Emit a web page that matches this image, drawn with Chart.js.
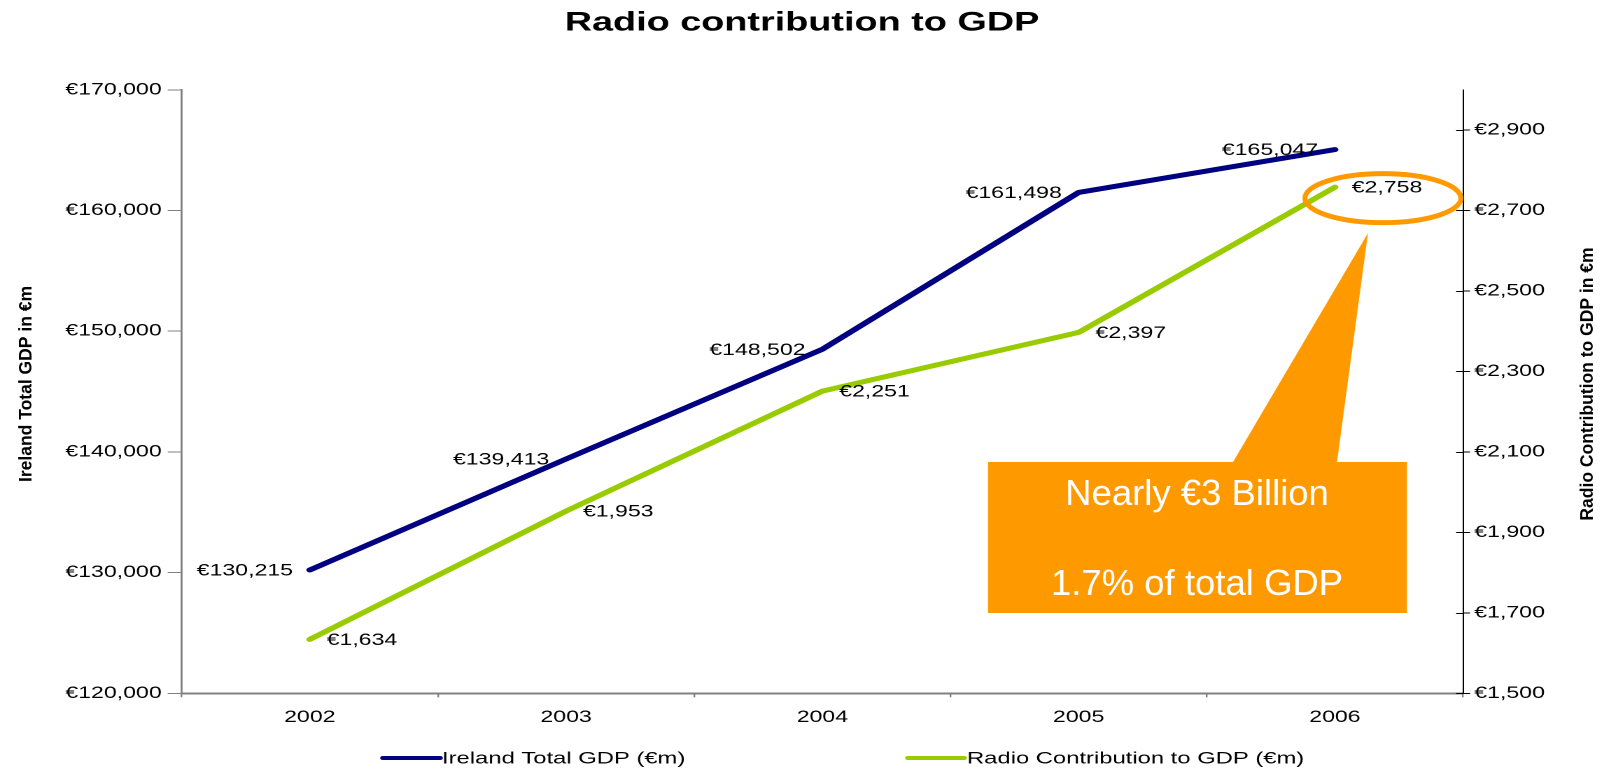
<!DOCTYPE html>
<html>
<head>
<meta charset="utf-8">
<title>Radio contribution to GDP</title>
<script src="https://cdn.jsdelivr.net/npm/chart.js@4/dist/chart.umd.min.js"></script>
<style>
  html, body { margin: 0; padding: 0; background: #fff; overflow: hidden; }
  #wrap { width: 1604px; height: 769px; overflow: hidden; position: relative; }
  /* the chart is laid out on a narrower canvas and widened horizontally */
  #c { display: block; transform-origin: 0 0; transform: scaleX(1.399651); }
</style>
</head>
<body>
<div id="wrap"><canvas id="c" width="1146" height="769"></canvas></div>
<script>
// ---- data ----
const years = ['2002', '2003', '2004', '2005', '2006'];
const irelandGdp = [130215, 139413, 148502, 161498, 165047];
const radioGdp = [1634, 1953, 2251, 2397, 2758];
const gdpTicks = [120000, 130000, 140000, 150000, 160000, 170000];
const radioTicks = [1500, 1700, 1900, 2100, 2300, 2500, 2700, 2900];
const seriesNames = ['Ireland Total GDP (€m)', 'Radio Contribution to GDP (€m)'];
const axisTitles = ['Ireland Total GDP in €m', 'Radio Contribution to GDP in €m'];
const chartTitle = 'Radio contribution to GDP';
const calloutLines = ['Nearly €3 Billion', '1.7% of total GDP'];

// ---- layout constants ----
const W = 1146, H = 769;
const SX = 1604 / W;            // horizontal widening of the canvas
const FONT = "'Liberation Sans', Arial, Helvetica, sans-serif";
const NAVY = '#000080';
const LIME = '#99CC00';
const ORANGE = '#FF9900';
const euro = v => '€' + v.toLocaleString('en-US');

Chart.defaults.font.family = FONT;
Chart.defaults.color = '#000';

// value labels, axis titles, legend and the callout
const decor = {
  id: 'decor',
  afterDatasetsDraw(chart) {
    const ctx = chart.ctx;
    ctx.save();
    ctx.font = `16.5px ${FONT}`;
    ctx.fillStyle = '#000';
    ctx.textBaseline = 'middle';
    chart.data.datasets.forEach((ds, i) => {
      const meta = chart.getDatasetMeta(i);
      meta.data.forEach((pt, j) => {
        const txt = euro(ds.data[j]);
        if (i === 0) {
          ctx.textAlign = 'right';
          ctx.fillText(txt, pt.x - 12, pt.y + 1);
        } else {
          ctx.textAlign = 'left';
          ctx.fillText(txt, pt.x + 12, pt.y + 1);
        }
      });
    });
    ctx.restore();
  },
  afterDraw(chart) {
    const ctx = chart.ctx;

    // inner half of the right-axis tick marks
    const r = chart.scales.y1;
    ctx.save();
    ctx.strokeStyle = '#000';
    ctx.lineWidth = 1;
    r.ticks.forEach(t => {
      const y = Math.round(r.getPixelForValue(t.value)) + 0.5;
      ctx.beginPath();
      ctx.moveTo(r.left - 5, y);
      ctx.lineTo(r.left, y);
      ctx.stroke();
    });
    ctx.restore();

    // legend
    ctx.save();
    ctx.lineCap = 'round';
    ctx.lineWidth = 4;
    const legendY = 758;
    const items = [
      { x0: 383, x1: 440, tx: 442 },
      { x0: 908, x1: 964, tx: 967 }
    ];
    ctx.font = `17px ${FONT}`;
    ctx.textBaseline = 'middle';
    ctx.textAlign = 'left';
    items.forEach((it, i) => {
      ctx.strokeStyle = chart.data.datasets[i].borderColor;
      ctx.beginPath();
      ctx.moveTo(it.x0 / SX, legendY);
      ctx.lineTo(it.x1 / SX, legendY);
      ctx.stroke();
      ctx.fillStyle = '#000';
      ctx.fillText(chart.data.datasets[i].label, it.tx / SX, legendY + 1);
    });
    ctx.restore();

    // everything below is drawn in un-widened coordinates
    ctx.save();
    ctx.scale(1 / SX, 1);

    // rotated axis titles
    ctx.font = `bold 17.5px ${FONT}`;
    ctx.fillStyle = '#000';
    ctx.textAlign = 'center';
    ctx.textBaseline = 'middle';
    [[26.5, axisTitles[0]], [1588, axisTitles[1]]].forEach(([x, t]) => {
      ctx.save();
      ctx.translate(x, 384);
      ctx.rotate(-Math.PI / 2);
      ctx.fillText(t, 0, 0);
      ctx.restore();
    });

    // ring around the last radio value
    const g = chart.getDatasetMeta(1).data[radioGdp.length - 1];
    const gx = g.x * SX, gy = g.y;
    ctx.strokeStyle = ORANGE;
    ctx.lineWidth = 5;
    ctx.beginPath();
    ctx.ellipse(gx + 48, gy + 11, 78, 24.5, 0, 0, Math.PI * 2);
    ctx.stroke();

    // callout box with pointer
    ctx.fillStyle = ORANGE;
    ctx.beginPath();
    ctx.moveTo(988, 462);
    ctx.lineTo(1233, 462);
    ctx.lineTo(1368, 233);
    ctx.lineTo(1337, 462);
    ctx.lineTo(1407, 462);
    ctx.lineTo(1407, 613);
    ctx.lineTo(988, 613);
    ctx.closePath();
    ctx.fill();

    ctx.fillStyle = '#fff';
    ctx.font = `36.5px ${FONT}`;
    ctx.textAlign = 'center';
    ctx.textBaseline = 'middle';
    ctx.fillText(calloutLines[0], 1197, 495);
    ctx.fillText(calloutLines[1], 1197, 585);
    ctx.restore();
  }
};

new Chart(document.getElementById('c'), {
  type: 'line',
  data: {
    labels: years,
    datasets: [
      {
        label: seriesNames[0],
        data: irelandGdp,
        yAxisID: 'y',
        borderColor: NAVY,
        backgroundColor: NAVY,
        borderWidth: 5,
        borderCapStyle: 'round',
        borderJoinStyle: 'round',
        pointRadius: 0,
        tension: 0,
        fill: false
      },
      {
        label: seriesNames[1],
        data: radioGdp,
        yAxisID: 'y1',
        borderColor: LIME,
        backgroundColor: LIME,
        borderWidth: 5,
        borderCapStyle: 'round',
        borderJoinStyle: 'round',
        pointRadius: 0,
        tension: 0,
        fill: false
      }
    ]
  },
  options: {
    responsive: false,
    devicePixelRatio: 2,
    animation: false,
    layout: { padding: 0 },
    plugins: {
      legend: { display: false },
      tooltip: { enabled: false },
      title: {
        display: true,
        text: chartTitle,
        color: '#000',
        font: { size: 27, weight: 'bold', family: FONT },
        padding: { top: 7, bottom: 50.4 }
      }
    },
    scales: {
      x: {
        type: 'category',
        offset: true,
        grid: {
          display: true,
          offset: true,
          drawOnChartArea: false,
          drawTicks: true,
          tickLength: 4,
          color: '#808080',
          lineWidth: 1.2
        },
        border: { display: true, color: '#808080', width: 2 },
        ticks: { font: { size: 16.5 }, color: '#000', padding: 10.5, maxRotation: 0, autoSkip: false },
        afterFit(s) { s.height = H - 693.3; }
      },
      y: {
        position: 'left',
        min: gdpTicks[0],
        max: gdpTicks[gdpTicks.length - 1],
        afterBuildTicks(s) { s.ticks = gdpTicks.map(v => ({ value: v })); },
        grid: {
          display: true,
          drawOnChartArea: false,
          drawTicks: true,
          tickLength: 10,
          color: '#808080',
          lineWidth: 1
        },
        border: { display: true, color: '#808080', width: 1.4 },
        ticks: { font: { size: 16.5 }, color: '#000', padding: 4.3, callback: v => euro(v) },
        afterFit(s) { s.width = 129.8; }
      },
      y1: {
        position: 'right',
        min: 1500,
        max: 3000,
        afterBuildTicks(s) { s.ticks = radioTicks.map(v => ({ value: v })); },
        grid: {
          display: true,
          drawOnChartArea: false,
          drawTicks: true,
          tickLength: 5,
          color: '#000',
          lineWidth: 1
        },
        border: { display: true, color: '#000', width: 1 },
        ticks: { font: { size: 16.5 }, color: '#000', padding: 3, callback: v => euro(v) },
        afterFit(s) { s.width = W - 1045.3; }
      }
    }
  },
  plugins: [decor]
});
</script>
</body>
</html>
